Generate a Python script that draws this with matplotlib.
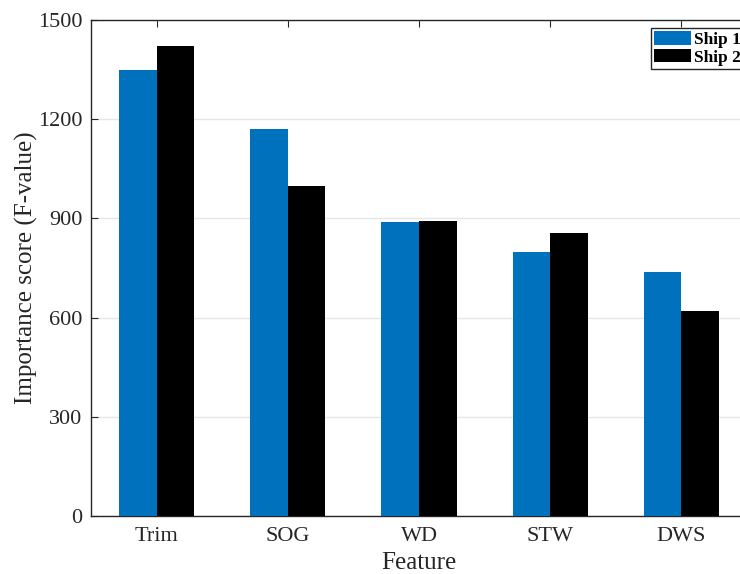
import matplotlib.pyplot as plt
import numpy as np

plt.rcParams['font.family'] = ['Liberation Serif', 'DejaVu Serif']

features = ["Trim", "SOG", "WD", "STW", "DWS"]
ship1 = [1350, 1170, 890, 797, 737]
ship2 = [1422, 997, 893, 857, 619]
yticks = [0, 300, 600, 900, 1200, 1500]

fig = plt.figure(figsize=(7.4, 5.74), dpi=100)
ax = fig.add_axes([91/740, 58/574, 656/740, 496/574])

x = np.arange(1, len(features) + 1)
w = 0.286
ax.bar(x - w/2, ship1, w, color="#0072BD", label="Ship 1", zorder=3)
ax.bar(x + w/2, ship2, w, color="black", label="Ship 2", zorder=3)

ax.set_xlim(0.5, 5.5)
ax.set_ylim(0, 1500)
ax.set_xticks(x)
ax.set_xticklabels(features)
ax.set_yticks(yticks)
ax.yaxis.grid(True, color="#e6e6e6", linewidth=1, zorder=0)
ax.tick_params(direction="in", top=True, right=True, labelsize=16, color="#262626",
               labelcolor="#262626", length=5)
ax.tick_params(axis="x", pad=8)
ax.tick_params(axis="y", pad=6)
for s in ax.spines.values():
    s.set_color("#262626")
    s.set_linewidth(1)

ax.set_xlabel("Feature", fontsize=18, labelpad=4, color="#262626")
ax.set_ylabel("Importance score (F-value)", fontsize=18, labelpad=0, color="#262626")

leg = ax.legend(loc="upper left", bbox_to_anchor=(0.8537, 0.984), prop={"weight": "bold", "size": 12.5},
                fancybox=False, framealpha=1, edgecolor="#262626", handlelength=2.1,
                handleheight=0.8, handletextpad=0.15, borderpad=0.2, labelspacing=0.05,
                borderaxespad=0)
leg.get_frame().set_linewidth(1)

fig.savefig("out.png", dpi=100)
